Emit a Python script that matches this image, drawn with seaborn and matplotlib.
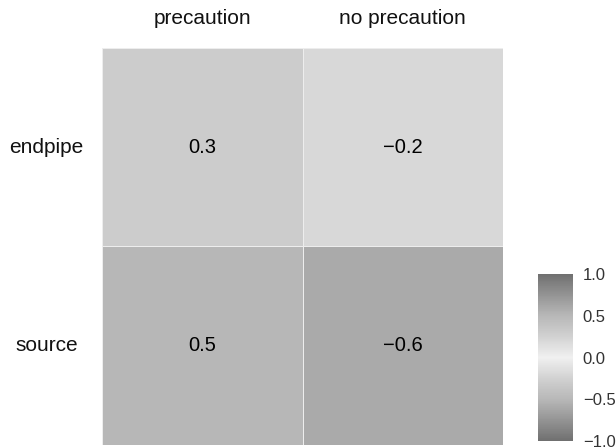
import numpy as np
import pandas as pd
import matplotlib
matplotlib.use("Agg")
import matplotlib.pyplot as plt
import seaborn as sns
from matplotlib.colors import LinearSegmentedColormap
from matplotlib.ticker import FuncFormatter

rows = ["endpipe", "source"]
cols = ["precaution", "no precaution"]
values = [[0.3, -0.2],
          [0.5, -0.6]]
cbar_ticks = [-1.0, -0.5, 0.0, 0.5, 1.0]

df = pd.DataFrame(values, index=rows, columns=cols)

sns.set_theme(style="white")
plt.rcParams["font.family"] = ["Liberation Sans", "DejaVu Sans"]

# grey - near white - grey diverging map
nodes = [(0.0, 112), (0.2, 170), (0.25, 184), (0.35, 204), (0.4, 216),
         (0.5, 240), (0.6, 216), (0.65, 204), (0.75, 184), (0.8, 170), (1.0, 112)]
cmap = LinearSegmentedColormap.from_list(
    "greydiv", [(p, (g / 255, g / 255, g / 255)) for p, g in nodes])

fig = plt.figure(figsize=(6.16, 4.48), dpi=100)
ax = fig.add_axes([102 / 616, 1 - 445 / 448, 401 / 616, 397 / 448])
cax = fig.add_axes([538 / 616, 1 - 441 / 448, 35 / 616, 167 / 448])

sns.heatmap(df, ax=ax, cbar_ax=cax, cmap=cmap, vmin=-1, vmax=1,
            annot=True, fmt=".1f",
            annot_kws={"fontsize": 14.5, "color": "black"},
            linewidths=0.6, linecolor="#ededed",
            cbar_kws={"ticks": cbar_ticks})

# unicode minus for annotations
for t in ax.texts:
    t.set_text(t.get_text().replace("-", "\u2212"))

ax.xaxis.tick_top()
ax.tick_params(axis="x", length=0, pad=21, labelsize=15, labelcolor="#111111")
ax.tick_params(axis="y", length=0, pad=40, labelsize=15, labelcolor="#111111")
for lbl in ax.get_xticklabels():
    lbl.set_va("center")
    lbl.set_rotation(0)
for lbl in ax.get_yticklabels():
    lbl.set_ha("center")
    lbl.set_va("center")
    lbl.set_rotation(0)
ax.set_xlabel("")
ax.set_ylabel("")

cb = ax.collections[0].colorbar
cb.outline.set_visible(False)
cax.yaxis.set_ticks_position("both")
cax.tick_params(axis="y", direction="in", color="white", length=5, width=1,
                labelsize=12, labelcolor="#333333", pad=7,
                left=True, right=True, labelleft=False, labelright=True)
cax.yaxis.set_major_formatter(FuncFormatter(lambda v, p: f"{v:.1f}".replace("-", "\u2212")))

fig.savefig("out.png", dpi=100)
